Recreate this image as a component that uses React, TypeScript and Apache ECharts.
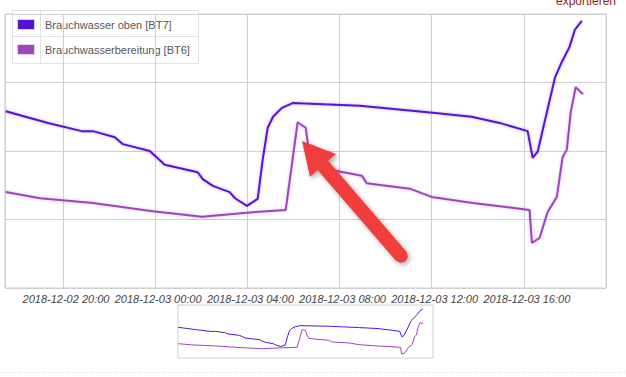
import React, { useEffect, useRef } from "react";
import * as echarts from "echarts";

const seriesNames = ["Brauchwasser oben [BT7]", "Brauchwasserbereitung [BT6]"];
const seriesColors = ["#5812d4", "#a043bd"];

const bt7Times = [
  "2018-12-02 17:31", "2018-12-02 19:21", "2018-12-02 20:49", "2018-12-02 21:18",
  "2018-12-02 22:15", "2018-12-02 22:36", "2018-12-02 23:46", "2018-12-03 00:25",
  "2018-12-03 01:51", "2018-12-03 02:04", "2018-12-03 02:30", "2018-12-03 03:14",
  "2018-12-03 03:28", "2018-12-03 03:59", "2018-12-03 04:27", "2018-12-03 04:40",
  "2018-12-03 04:53", "2018-12-03 05:07", "2018-12-03 05:30", "2018-12-03 05:58",
  "2018-12-03 08:53", "2018-12-03 12:03", "2018-12-03 13:44", "2018-12-03 14:57",
  "2018-12-03 16:10", "2018-12-03 16:23", "2018-12-03 16:36", "2018-12-03 17:21",
  "2018-12-03 17:39", "2018-12-03 17:59", "2018-12-03 18:13", "2018-12-03 18:31",
];
const bt7Values = [
  45.8, 44.1, 42.9, 42.9,
  42.0, 41.0, 40.0, 38.0,
  36.9, 35.9, 34.9, 34.0,
  33.1, 32.0, 33.0, 38.7,
  43.4, 45.0, 46.3, 47.0,
  46.6, 45.6, 45.0, 44.1,
  42.9, 39.0, 39.9, 50.7,
  53.0, 55.2, 57.7, 59.0,
];

const bt6Times = [
  "2018-12-02 17:31", "2018-12-02 19:00", "2018-12-02 21:18", "2018-12-02 23:54",
  "2018-12-03 02:02", "2018-12-03 03:59", "2018-12-03 05:40", "2018-12-03 06:11",
  "2018-12-03 06:32", "2018-12-03 06:40", "2018-12-03 06:53", "2018-12-03 07:43",
  "2018-12-03 08:58", "2018-12-03 09:11", "2018-12-03 11:03", "2018-12-03 12:00",
  "2018-12-03 13:47", "2018-12-03 16:15", "2018-12-03 16:21", "2018-12-03 16:41",
  "2018-12-03 17:02", "2018-12-03 17:26", "2018-12-03 17:41", "2018-12-03 17:52",
  "2018-12-03 18:02", "2018-12-03 18:15", "2018-12-03 18:34",
];
const bt6Values = [
  34.0, 33.1, 32.4, 31.2,
  30.4, 31.0, 31.4, 44.2,
  43.4, 40.2, 37.8, 37.2,
  36.4, 35.3, 34.5, 33.3,
  32.4, 31.4, 26.6, 27.3,
  31.1, 33.3, 39.1, 40.2,
  45.6, 49.3, 48.3,
];

const axisStart = "2018-12-02 17:29";
const axisEnd = "2018-12-03 19:34";
const tickHours = 4;
const yMin = 20;
const yMax = 60;
const yStep = 10;
const navYMin = 23.7;
const navYMax = 61.9;

function toTs(s: string): number {
  const [d, t] = s.split(" ");
  const [Y, M, D] = d.split("-").map(Number);
  const [h, m] = t.split(":").map(Number);
  return new Date(Y, M - 1, D, h, m).getTime();
}
function pad(n: number) {
  return n < 10 ? "0" + n : "" + n;
}
function fmt(v: number) {
  const d = new Date(v);
  return `${d.getFullYear()}-${pad(d.getMonth() + 1)}-${pad(d.getDate())} ${pad(d.getHours())}:${pad(d.getMinutes())}`;
}

const FONT = "'Liberation Sans', Arial, sans-serif";

export default function App() {
  const ref = useRef<HTMLDivElement>(null);
  useEffect(() => {
    if (!ref.current) return;
    const chart = echarts.init(ref.current, undefined, { renderer: "svg" });
    const d7 = bt7Times.map((t, i) => [toTs(t), bt7Values[i]]);
    const d6 = bt6Times.map((t, i) => [toTs(t), bt6Values[i]]);
    const xMin = toTs(axisStart);
    const xMax = toTs(axisEnd);
    const H = 3600 * 1000 * tickHours;

    const option: any = {
      animation: false,
      backgroundColor: "#fff",
      grid: [
        { left: 5, top: 14, width: 601, height: 274, show: true, borderColor: "#cfcfcf", borderWidth: 1 },
        { left: 178, top: 305, width: 255, height: 53, show: true, borderColor: "#cfcfcf", borderWidth: 1 },
      ],
      xAxis: [
        {
          type: "time",
          gridIndex: 0,
          min: xMin,
          max: xMax,
          minInterval: H,
          maxInterval: H,
          axisLine: { show: false },
          axisTick: { show: false },
          axisLabel: {
            formatter: (v: number) => fmt(v),
            fontFamily: FONT,
            fontSize: 11,
            fontStyle: "italic",
            color: "#444",
            margin: 5,
            padding: [0, 0, 0, 6],
            showMinLabel: false,
            showMaxLabel: false,
            hideOverlap: false,
          },
          splitLine: { show: true, lineStyle: { color: "#cfcfcf", width: 1 } },
        },
        {
          type: "time",
          gridIndex: 1,
          min: xMin,
          max: xMax,
          show: false,
        },
      ],
      yAxis: [
        {
          type: "value",
          gridIndex: 0,
          min: yMin,
          max: yMax,
          interval: yStep,
          axisLine: { show: false },
          axisTick: { show: false },
          axisLabel: { show: false },
          splitLine: { show: true, lineStyle: { color: "#cfcfcf", width: 1 } },
        },
        {
          type: "value",
          gridIndex: 1,
          min: navYMin,
          max: navYMax,
          show: false,
          splitLine: { show: false },
        },
      ],
      series: [
        {
          name: seriesNames[0],
          type: "line",
          xAxisIndex: 0,
          yAxisIndex: 0,
          data: d7,
          showSymbol: false,
          symbol: "none",
          lineStyle: { color: seriesColors[0], width: 2, shadowColor: "rgba(88,18,212,0.35)", shadowBlur: 3 },
          z: 3,
        },
        {
          name: seriesNames[1],
          type: "line",
          xAxisIndex: 0,
          yAxisIndex: 0,
          data: d6,
          showSymbol: false,
          symbol: "none",
          lineStyle: { color: seriesColors[1], width: 2, shadowColor: "rgba(160,67,189,0.35)", shadowBlur: 3 },
          z: 2,
        },
        {
          name: seriesNames[0] + " (Navigator)",
          type: "line",
          xAxisIndex: 1,
          yAxisIndex: 1,
          data: d7,
          showSymbol: false,
          symbol: "none",
          lineStyle: { color: seriesColors[0], width: 1 },
        },
        {
          name: seriesNames[1] + " (Navigator)",
          type: "line",
          xAxisIndex: 1,
          yAxisIndex: 1,
          data: d6,
          showSymbol: false,
          symbol: "none",
          lineStyle: { color: seriesColors[1], width: 1 },
        },
      ],
      graphic: [
        {
          type: "text",
          x: 616,
          y: 1,
          z: 100,
          style: {
            text: "exportieren",
            fill: "#8b1c1c",
            font: `12px ${FONT}`,
            align: "right",
            verticalAlign: "middle",
          },
        },
        {
          type: "line",
          z: 100,
          shape: { x1: 0, y1: 372.5, x2: 626, y2: 372.5 },
          style: { stroke: "#d4d4d4", lineWidth: 1, lineDash: [1, 2] },
        },
        {
          type: "group",
          z: 100,
          children: [
            {
              type: "rect",
              shape: { x: 12.5, y: 10.5, width: 186, height: 53 },
              style: { fill: "#fff", stroke: "#e2e2e2", lineWidth: 1 },
            },
            {
              type: "line",
              shape: { x1: 12.5, y1: 36.5, x2: 198.5, y2: 36.5 },
              style: { stroke: "#e2e2e2", lineWidth: 1 },
            },
            {
              type: "line",
              shape: { x1: 40.5, y1: 10.5, x2: 40.5, y2: 63.5 },
              style: { stroke: "#e2e2e2", lineWidth: 1 },
            },
            {
              type: "rect",
              shape: { x: 17.5, y: 19.5, width: 17, height: 10 },
              style: { fill: seriesColors[0], stroke: "#d6d6e6", lineWidth: 1 },
            },
            {
              type: "rect",
              shape: { x: 17.5, y: 44.5, width: 17, height: 10 },
              style: { fill: seriesColors[1], stroke: "#e0d6e6", lineWidth: 1 },
            },
            {
              type: "text",
              x: 45,
              y: 24.5,
              style: { text: seriesNames[0], fill: "#555", font: `11px ${FONT}`, verticalAlign: "middle" },
            },
            {
              type: "text",
              x: 45,
              y: 49.5,
              style: { text: seriesNames[1], fill: "#555", font: `11px ${FONT}`, verticalAlign: "middle" },
            },
          ],
        },
        {
          type: "polygon",
          z: 101,
          shape: {
            points: [
              [302, 141],
              [336, 154],
              [328.2, 160.7],
              [406.3, 251.4],
              [408.0, 256.5],
              [405.6, 261.3],
              [400.5, 263.0],
              [395.7, 260.6],
              [317.6, 169.9],
              [310, 177],
            ],
          },
          style: {
            fill: "#f03c3c",
            shadowBlur: 5,
            shadowColor: "rgba(0,0,0,0.35)",
            shadowOffsetX: 2,
            shadowOffsetY: 2,
          },
        },
      ],
    };
    chart.setOption(option);
    return () => chart.dispose();
  }, []);
  return <div ref={ref} style={{ position: "fixed", left: 0, top: 0, width: 626, height: 377 }} />;
}
